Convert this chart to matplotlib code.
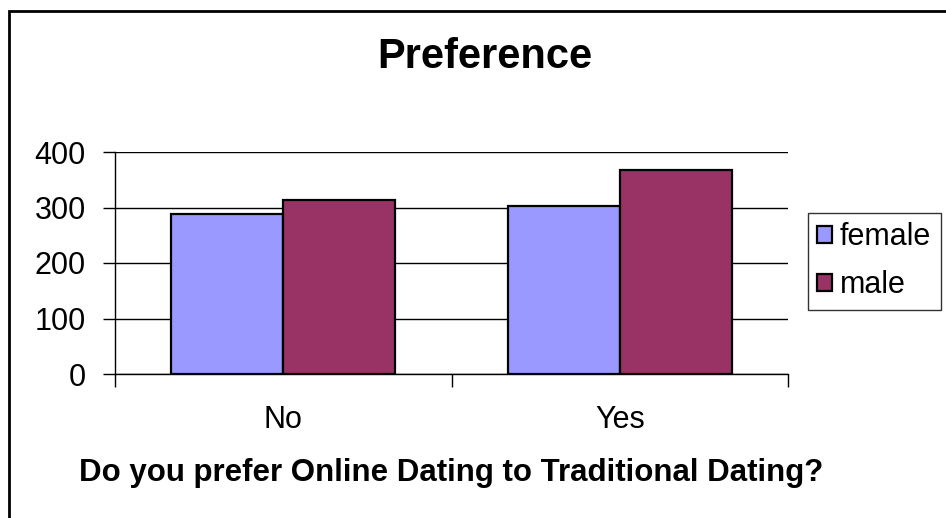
import numpy as np
import matplotlib
matplotlib.use("Agg")
import matplotlib.pyplot as plt
from matplotlib.patches import Rectangle

plt.rcParams['font.family'] = ['Liberation Sans', 'DejaVu Sans']

categories = ["No", "Yes"]
female = [289, 303]
male = [313, 367]
series_names = ["female", "male"]
colors = ["#9999FF", "#993366"]

fig = plt.figure(figsize=(9.46, 5.18), dpi=100)
ax = fig.add_axes([115 / 946, 1 - 374 / 518, (788 - 115) / 946, (374 - 152) / 518])

x = np.arange(len(categories))
w = 1 / 3
ax.bar(x - w / 2, female, w, color=colors[0], edgecolor="black", linewidth=1.6,
       label=series_names[0], zorder=3)
ax.bar(x + w / 2, male, w, color=colors[1], edgecolor="black", linewidth=1.6,
       label=series_names[1], zorder=3)

ax.set_xlim(-0.5, len(categories) - 0.5)
ax.set_ylim(0, 400)
ax.set_yticks(range(0, 401, 100))
ax.yaxis.grid(True, color="black", linewidth=1, zorder=0)
ax.set_axisbelow(True)

# category boundaries get the tick marks, labels sit in the middle
ax.set_xticks(np.arange(-0.5, len(categories), 1))
ax.set_xticklabels([])
ax.set_xticks(x, minor=True)
ax.set_xticklabels(categories, minor=True)
ax.tick_params(axis="x", which="major", length=9, width=1, direction="out")
ax.tick_params(axis="x", which="minor", length=0, pad=22, labelsize=22)
ax.tick_params(axis="y", length=9, width=1, direction="out", labelsize=22, pad=12)

for s in ["top", "right"]:
    ax.spines[s].set_visible(False)
ax.spines["left"].set_linewidth(1)
ax.spines["bottom"].set_linewidth(1)

fig.text(485 / 946, 1 - 57 / 518, "Preference", ha="center", va="center",
         fontsize=30, fontweight="bold")
fig.text(451.5 / 946, 1 - 473 / 518, "Do you prefer Online Dating to Traditional Dating?",
         ha="center", va="center", fontsize=22.5, fontweight="bold")

leg = ax.legend(loc="upper left", bbox_to_anchor=(808 / 946, 1 - 213 / 518),
                bbox_transform=fig.transFigure, fontsize=22, frameon=True,
                fancybox=False, edgecolor="black", handlelength=0.5, handleheight=0.5,
                handletextpad=0.25, borderpad=0.3, labelspacing=0.6, borderaxespad=0)
leg.get_frame().set_linewidth(1)

fig.add_artist(Rectangle((9 / 946, -0.05), 1.1, 1 - 11 / 518 + 0.05,
                         transform=fig.transFigure, fill=False,
                         edgecolor="black", linewidth=2))

fig.savefig("out.png", dpi=100)
